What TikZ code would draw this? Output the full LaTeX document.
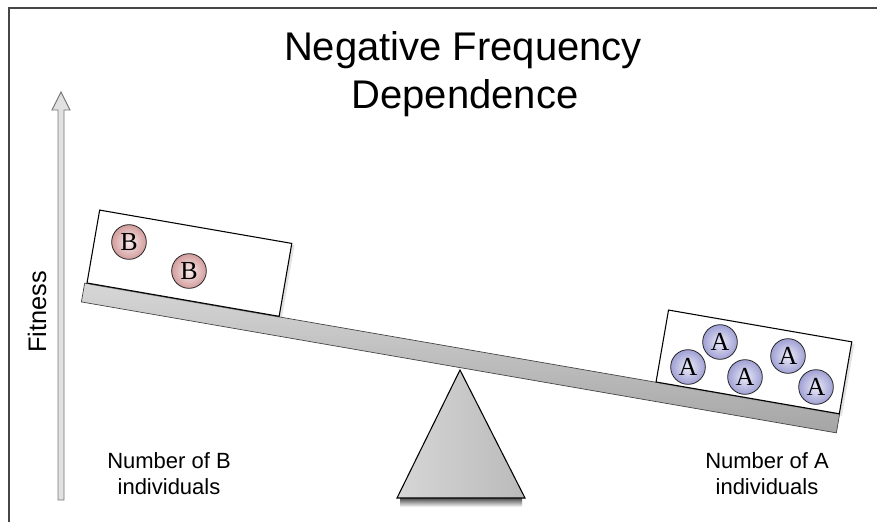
\documentclass[tikz,border=0pt]{standalone}
\usepackage{fontspec}
\setmainfont{Liberation Sans}
\newfontfamily\coinfont{Liberation Serif}
\usetikzlibrary{shadows}
\definecolor{frame}{RGB}{70,70,70}
\definecolor{plankhi}{RGB}{215,215,215}
\definecolor{planklo}{RGB}{165,165,165}
\definecolor{bin}{RGB}{250,238,238}
\definecolor{bout}{RGB}{210,156,156}
\definecolor{ain}{RGB}{236,236,250}
\definecolor{aout}{RGB}{160,160,212}
\definecolor{arrowfill}{RGB}{225,225,225}
\definecolor{arrowline}{RGB}{120,120,120}
\begin{document}
\begin{tikzpicture}[x=0.75pt,y=-0.75pt,
  titletext/.style={font=\fontsize{30}{36}\selectfont, anchor=base, inner sep=0pt},
  labeltext/.style={font=\fontsize{16.5}{19.5}\selectfont, anchor=base, inner sep=0pt},
  plankstyle/.style={draw=black!75, line width=0.5pt, top color=plankhi, bottom color=planklo, inner sep=0pt, rotate=-9.84},
  tray/.style={draw=black, line width=0.8pt, fill=white, inner sep=0pt, rotate=-9.84,
    drop shadow={opacity=0.22, shadow xshift=2pt, shadow yshift=-1.5pt}},
  coin/.style={circle, draw=black!85, line width=0.6pt, minimum size=26pt, inner sep=0pt,
    font=\coinfont\fontsize{19.5}{21}\selectfont},
  bcoin/.style={coin, inner color=bin, outer color=bout},
  acoin/.style={coin, inner color=ain, outer color=aout}]
\useasboundingbox (0,0) rectangle (877,522);
\fill[white] (0,0) rectangle (877,522);
% frame
\draw[frame, line width=1.2pt] (9,522) -- (9,8) -- (877,8);

% title
\node[titletext] (t1) at (463,60) {Negative Frequency};
\node[titletext] (t2) at (465,108) {Dependence};

% fitness axis arrow
\coordinate (ab) at (61,500);
\coordinate (at) at (61,92);
\draw[fill=arrowfill, draw=arrowline, line width=0.7pt]
  ([xshift=-2.25pt]ab) -- ([xshift=-2.25pt]at |- 0,110) -- ([xshift=-6.75pt]at |- 0,110)
  -- (at) -- ([xshift=6.75pt]at |- 0,110) -- ([xshift=2.25pt]at |- 0,110) -- ([xshift=2.25pt]ab) -- cycle;
\node[labeltext, font=\fontsize{19}{22}\selectfont, anchor=center, rotate=90] (fit) at (37,312) {Fitness};

% fulcrum shadow
\shade[top color=black!70, bottom color=white] (400,498) rectangle (522,507);
% plank
\node[plankstyle, minimum width=574.7pt, minimum height=14.3pt] (plank) at (460.5,358) {};
% fulcrum
\coordinate (apex) at (460,370);
\coordinate (bl) at (397,498);
\coordinate (br) at (525,498);
\draw[line width=0.8pt, left color=black!16, right color=black!27, line join=miter]
  (apex) -- (br) -- (bl) -- cycle;

% trays
\node[tray, minimum width=146.25pt, minimum height=55.5pt] (boxB) at (189.4,263.2) {};
\node[tray, minimum width=139.5pt, minimum height=54.75pt] (boxA) at (753.9,361.9) {};

% coins
\node[bcoin] (b1) at (129,242) {B};
\node[bcoin] (b2) at (189,271) {B};
\node[acoin] (a1) at (688,367) {A};
\node[acoin] (a2) at (720,342) {A};
\node[acoin] (a3) at (745,377) {A};
\node[acoin] (a4) at (788,356) {A};
\node[acoin] (a5) at (816,387) {A};

% labels
\node[labeltext] (lb1) at (169,468) {Number of B};
\node[labeltext] (lb2) at (169,494) {individuals};
\node[labeltext] (la1) at (767,468) {Number of A};
\node[labeltext] (la2) at (767,494) {individuals};
\end{tikzpicture}
\end{document}
